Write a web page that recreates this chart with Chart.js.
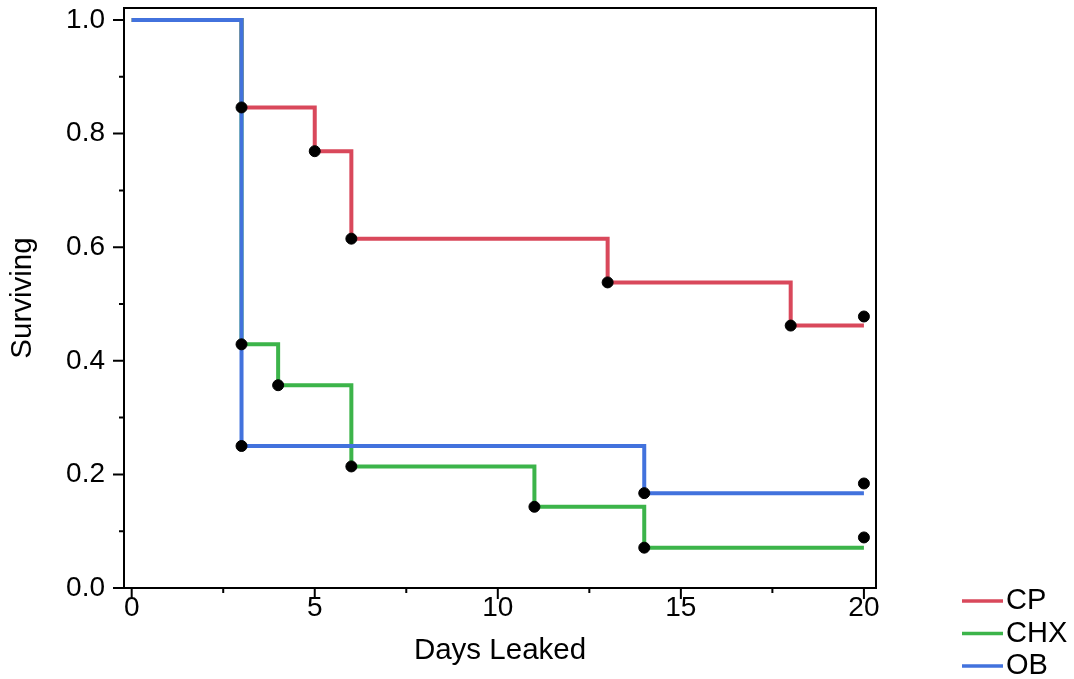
<!DOCTYPE html>
<html>
<head>
<meta charset="utf-8">
<title>Surviving vs Days Leaked</title>
<script src="https://cdn.jsdelivr.net/npm/chart.js@4.4.1/dist/chart.umd.min.js"></script>
<style>
    html, body { margin: 0; padding: 0; background: #fff; }
    #wrap { width: 1074px; height: 679px; }
</style>
</head>
<body>
<div id="wrap"><canvas id="kmChart" width="1074" height="679"></canvas></div>
<script>
// survival steps (Kaplan-Meier)
const cpDays = [0, 3, 5, 6, 13, 18, 20];
const cpSurv = [1, 0.846, 0.769, 0.615, 0.538, 0.462, 0.462];
const chxDays = [0, 3, 4, 6, 11, 14, 20];
const chxSurv = [1, 0.429, 0.357, 0.214, 0.143, 0.071, 0.071];
const obDays = [0, 3, 14, 20];
const obSurv = [1, 0.25, 0.167, 0.167];

// censor marks at the end of the study
const censorDay = 20;
const cpCensor = 0.478;
const chxCensor = 0.089;
const obCensor = 0.184;

// ticks
const xTicks = [0, 5, 10, 15, 20];
const xMinor = [2.5, 7.5, 12.5, 17.5];
const yTicks = [0, 0.2, 0.4, 0.6, 0.8, 1.0];
const yMinor = [0.1, 0.3, 0.5, 0.7, 0.9];

const toPts = (xs, ys) => xs.map((x, i) => ({ x: x, y: ys[i] }));

// dots: every drop in the curve plus the censor mark
function dots(xs, ys, censor) {
    const pts = toPts(xs, ys).slice(1, -1);
    pts.push({ x: censorDay, y: censor });
    return pts;
}

const stepLine = (label, xs, ys, color, order) => ({
    label: label,
    data: toPts(xs, ys),
    borderColor: color,
    backgroundColor: color,
    borderWidth: 4,
    stepped: true,
    pointRadius: 0,
    fill: false,
    order: order
});

const dotSet = (xs, ys, censor) => ({
    type: 'scatter',
    data: dots(xs, ys, censor),
    backgroundColor: '#000',
    borderColor: '#000',
    pointRadius: 5.5,
    showLine: false,
    isDots: true,
    order: 0
});

// box, tick marks and legend
const framePlugin = {
    id: 'frame',
    afterDraw(chart) {
        const ctx = chart.ctx;
        const a = chart.chartArea;
        const xs = chart.scales.x;
        const ys = chart.scales.y;

        ctx.save();
        ctx.strokeStyle = '#000';
        ctx.lineWidth = 2;
        ctx.strokeRect(a.left, a.top, a.right - a.left, a.bottom - a.top);

        ctx.beginPath();
        xTicks.forEach(v => {
            const p = xs.getPixelForValue(v);
            ctx.moveTo(p, a.bottom); ctx.lineTo(p, a.bottom + 11);
        });
        xMinor.forEach(v => {
            const p = xs.getPixelForValue(v);
            ctx.moveTo(p, a.bottom); ctx.lineTo(p, a.bottom + 5);
        });
        yTicks.forEach(v => {
            const p = ys.getPixelForValue(v);
            ctx.moveTo(a.left - 11, p); ctx.lineTo(a.left, p);
        });
        yMinor.forEach(v => {
            const p = ys.getPixelForValue(v);
            ctx.moveTo(a.left - 5, p); ctx.lineTo(a.left, p);
        });
        ctx.stroke();

        // legend
        let ly = a.bottom + 13;
        const lx = a.right + 86;
        ctx.font = '29px "Liberation Sans", Arial, sans-serif';
        ctx.textBaseline = 'middle';
        ctx.textAlign = 'left';
        chart.data.datasets.forEach(ds => {
            if (ds.isDots) return;
            ctx.strokeStyle = ds.borderColor;
            ctx.lineWidth = 3.5;
            ctx.beginPath();
            ctx.moveTo(lx, ly); ctx.lineTo(lx + 41, ly);
            ctx.stroke();
            ctx.fillStyle = '#000';
            ctx.fillText(ds.label, lx + 44, ly);
            ly += 32.5;
        });
        ctx.restore();
    }
};

Chart.defaults.font.family = '"Liberation Sans", Arial, sans-serif';
Chart.defaults.color = '#000';

new Chart(document.getElementById('kmChart'), {
    type: 'line',
    data: {
        datasets: [
            stepLine('CP', cpDays, cpSurv, '#d9485b', 3),
            stepLine('CHX', chxDays, chxSurv, '#3cb44a', 2),
            stepLine('OB', obDays, obSurv, '#4272dd', 1),
            dotSet(cpDays, cpSurv, cpCensor),
            dotSet(chxDays, chxSurv, chxCensor),
            dotSet(obDays, obSurv, obCensor)
        ]
    },
    options: {
        responsive: false,
        animation: false,
        layout: { padding: { top: 8, right: 198, left: 0, bottom: 0 } },
        plugins: {
            legend: { display: false },
            tooltip: { enabled: false }
        },
        scales: {
            x: {
                type: 'linear',
                min: -0.21,
                max: 20.33,
                grid: { display: false, drawTicks: false },
                border: { display: false },
                afterBuildTicks: s => { s.ticks = xTicks.map(v => ({ value: v })); },
                afterFit: s => {
                    s.height = 91;
                    s.paddingLeft = 0;
                    s.paddingRight = 0;
                },
                ticks: { font: { size: 28 }, padding: 3, maxRotation: 0 },
                title: {
                    display: true,
                    text: 'Days Leaked',
                    font: { size: 29.5 },
                    padding: { top: 0, bottom: 10 }
                }
            },
            y: {
                type: 'linear',
                min: 0,
                max: 1.0211,
                grid: { display: false, drawTicks: false },
                border: { display: false },
                afterBuildTicks: s => { s.ticks = yTicks.map(v => ({ value: v })); },
                afterFit: s => {
                    s.width = 124;
                    s.paddingTop = 0;
                    s.paddingBottom = 0;
                },
                ticks: {
                    font: { size: 28 },
                    padding: 19,
                    callback: v => v.toFixed(1)
                },
                title: {
                    display: true,
                    text: 'Surviving',
                    font: { size: 29.5 },
                    padding: { top: 5, bottom: 0 }
                }
            }
        }
    },
    plugins: [framePlugin]
});
</script>
</body>
</html>
